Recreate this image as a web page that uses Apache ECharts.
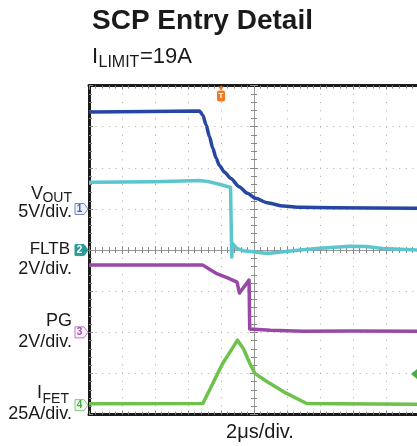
<!DOCTYPE html>
<html>
<head>
<meta charset="utf-8">
<script src="https://cdn.jsdelivr.net/npm/echarts@6/dist/echarts.min.js"></script>
<style>
  html, body { margin: 0; padding: 0; background: #fff; }
  #chart { width: 417px; height: 446px; }
</style>
</head>
<body>
<div id="chart"></div>
<script>
// time in µs, 0 = centre of the screen; 2 µs per division
const vTime = [-10, -3.3, -3.1, -2.9, -2.7, -2.5, -2.3, -2.1, -1.8, -1.4, -0.9, -0.4, 0.1, 0.8, 1.8, 2.8, 4.8, 10];
const vOut = [11.8, 11.9, 11.4, 10.2, 8.8, 7.4, 6.2, 5.3, 4.5, 3.7, 2.7, 1.9, 1.3, 0.75, 0.35, 0.2, 0.15, 0.1];

const fTime = [-10, -6, -3.3, -2.7, -2.1, -1.42, -1.37, -1.35, -1.3, -1.05, -0.65, -0.05, 0.8, 1.8, 2.8, 3.8, 5.8, 6.8, 7.8, 10];
const fltb = [3.3, 3.32, 3.38, 3.32, 3.2, 3.05, 3.03, -0.34, 0.33, 0.08, -0.03, -0.08, -0.16, -0.08, 0, 0.08, 0.19, 0.17, 0.08, 0];

const pTime = [-10, -3.1, -2.3, -1.6, -1.03, -0.88, -0.3, -0.26, 1, 3, 6, 10];
const pg = [3.27, 3.27, 2.87, 2.65, 2.44, 1.91, 2.54, 0.16, 0.1, 0.05, 0.06, 0.05];

const iTime = [-10, -3.1, -2.7, -2.3, -1.9, -1.45, -1.0, -0.65, -0.25, 0.05, 0.8, 1.8, 2.8, 3.2, 5, 10];
const ifet = [0.8, 1.0, 9.1, 17.2, 25.3, 32.4, 39.5, 34.5, 25.3, 19.3, 14.2, 8.1, 3.0, 1.0, 0.8, 0.6];

const triggerTime = -2;
const triggerLevel = 19; // A, on IFET

// channel ground position (div from centre) and volts/amps per div
const chOffset = [1.0, 0, -2.0, -3.77];
const chScale = [5, 2, 2, 25];
const chColor = ['#2646a2', '#5cc6cf', '#9a48a8', '#6ec24c'];

const toDiv = (times, vals, ch) => times.map((t, i) => [t, chOffset[ch] + vals[i] / chScale[ch]]);

const chart = echarts.init(document.getElementById('chart'));
const font = 'Liberation Sans, Arial, sans-serif';

const gridTop = 85.6, gridLeft = 89, gridW = 330, gridH = 329;

const border = { color: '#1a1a1a', width: 3 };
const tickStyle = { color: '#888', width: 1 };

function xAxisOf(position, onZero, line) {
  return {
    type: 'value', min: -10, max: 10, interval: 2, position,
    axisLine: { show: true, onZero, onZeroAxisIndex: onZero ? 0 : undefined, lineStyle: line },
    axisTick: { show: true, inside: true, length: 4, lineStyle: tickStyle },
    minorTick: { show: true, splitNumber: 5, length: 3, lineStyle: tickStyle },
    axisLabel: { show: false },
    splitLine: { show: false },
  };
}
function yAxisOf(position, onZero, line) {
  return {
    type: 'value', min: -4, max: 4, interval: 1, position,
    axisLine: { show: true, onZero, onZeroAxisIndex: onZero ? 0 : undefined, lineStyle: line },
    axisTick: { show: true, inside: true, length: 4, lineStyle: tickStyle },
    minorTick: { show: true, splitNumber: 5, length: 3, lineStyle: tickStyle },
    axisLabel: { show: false },
    splitLine: { show: false },
  };
}

const xAxes = [
  xAxisOf('bottom', false, border),
  xAxisOf('top', false, border),
  xAxisOf('bottom', true, { color: '#999', width: 1 }),
  xAxisOf('top', true, { color: '#999', width: 1 }),
];
xAxes[0].splitLine = { show: true, lineStyle: { color: '#aaa', width: 1, type: [1, 7.2] } };

const yAxes = [
  yAxisOf('left', false, border),
  yAxisOf('left', true, { color: '#999', width: 1 }),
  yAxisOf('right', true, { color: '#999', width: 1 }),
];
yAxes[0].splitLine = { show: true, lineStyle: { color: '#aaa', width: 1, type: [1, 5.6] } };

const traces = [
  toDiv(vTime, vOut, 0),
  toDiv(fTime, fltb, 1),
  toDiv(pTime, pg, 2),
  toDiv(iTime, ifet, 3),
];

chart.setOption({
  animation: false,
  backgroundColor: '#fff',
  textStyle: { fontFamily: font },
  grid: { left: gridLeft, top: gridTop, width: gridW, height: gridH, containLabel: false, outerBoundsMode: 'none' },
  xAxis: xAxes,
  yAxis: yAxes,
  series: traces.map((data, ch) => ({
    type: 'line',
    xAxisIndex: 0,
    yAxisIndex: 0,
    data,
    showSymbol: false,
    smooth: ch === 0 ? 0.25 : false,
    smoothMonotone: 'x',
    lineStyle: { color: chColor[ch], width: 3.5, join: 'round' },
    z: 5,
  })),
});

function px(t, d) {
  return chart.convertToPixel({ xAxisIndex: 0, yAxisIndex: 0 }, [t, d]);
}

function label(text, x, y, size, align, bold) {
  return {
    type: 'text', x, y, z: 20,
    style: {
      text, fill: '#1a1a1a', font: (bold ? 'bold ' : '') + size + 'px ' + font,
      align: align || 'left', verticalAlign: 'middle',
    },
  };
}

const markerFill = ['#eef0fa', '#2a9b98', '#fbf3fc', '#f3fbf1'];
const markerStroke = ['#7282c4', '#2a9b98', '#b878c6', '#7cc77a'];
const markerText = ['#4a5cb0', '#fff', '#a050b0', '#4aa848'];

const graphics = [
  label('SCP Entry Detail', 92, 21.5, 28, 'left', true),
  label('I', 92, 56.5, 22),
  label('LIMIT', 98.5, 63, 16),
  label('=19A', 140, 56.5, 22),

  label('OUT', 72, 198.5, 14, 'right'),
  label('V', 43, 193.7, 18, 'right'),
  label('5V/div.', 72, 211.8, 18, 'right'),
  label('FLTB', 70, 249.5, 17, 'right'),
  label('2V/div.', 72, 269.5, 18, 'right'),
  label('PG', 72, 321.5, 18, 'right'),
  label('2V/div.', 72, 342.5, 18, 'right'),
  label('FET', 69, 399, 14, 'right'),
  label('I', 42, 393.5, 18, 'right'),
  label('25A/div.', 72, 414, 18, 'right'),
  label('2μs/div.', 260, 432.5, 20, 'center'),
];

chOffset.forEach((off, ch) => {
  const y = px(0, off)[1];
  graphics.push({
    type: 'polygon', z: 20,
    shape: { points: [[75, y - 5.5], [84, y - 5.5], [88, y], [84, y + 5.5], [75, y + 5.5]] },
    style: { fill: markerFill[ch], stroke: markerStroke[ch], lineWidth: 1 },
  });
  graphics.push({
    type: 'text', x: 79.5, y, z: 21,
    style: { text: String(ch + 1), fill: markerText[ch], font: 'bold 10px ' + font, align: 'center', verticalAlign: 'middle' },
  });
});

// trigger position marker
const tx = px(triggerTime, 0)[0];
graphics.push({
  type: 'polygon', z: 20,
  shape: { points: [[tx - 3, gridTop + 1], [tx + 3, gridTop + 1], [tx, gridTop + 5]] },
  style: { fill: '#f07a24' },
});
graphics.push({
  type: 'rect', z: 20,
  shape: { x: tx - 4, y: gridTop + 5, width: 8, height: 11, r: 2 },
  style: { fill: '#f07a24' },
});
graphics.push({
  type: 'text', x: tx, y: gridTop + 10.5, z: 21,
  style: { text: 'T', fill: '#fff', font: 'bold 8px ' + font, align: 'center', verticalAlign: 'middle' },
});

// trigger level arrow (IFET)
const ly = px(0, chOffset[3] + triggerLevel / chScale[3])[1];
graphics.push({
  type: 'polygon', z: 20,
  shape: { points: [[411, ly], [417, ly - 5], [417, ly + 5]] },
  style: { fill: '#4caa48' },
});

chart.setOption({ graphic: graphics });
</script>
</body>
</html>
